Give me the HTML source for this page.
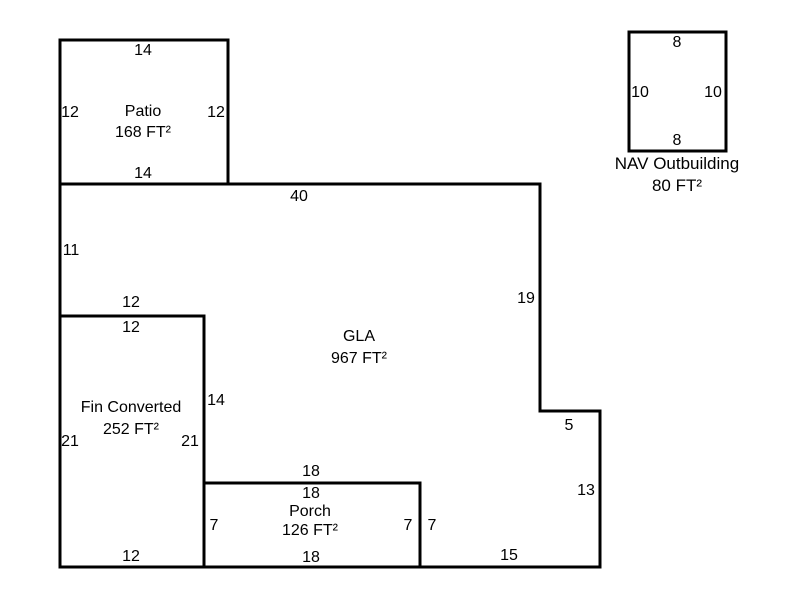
<!DOCTYPE html>
<html><head><style>body{margin:0;background:#fff}svg{display:block}text{font-family:"Liberation Sans",Arial,sans-serif;font-size:16px;fill:#000;text-anchor:middle}</style></head>
<body>
<svg width="800" height="600" viewBox="0 0 800 600">
<g fill="none" stroke="#000" stroke-width="3">
<rect x="60" y="40" width="168" height="144"/>
<path d="M60 184 H540 V411 H600 V567 H60 Z"/>
<rect x="60" y="316" width="144" height="251"/>
<rect x="204" y="483" width="216" height="84"/>
<rect x="629" y="32" width="97" height="119"/>
</g>
<text x="143" y="55">14</text>
<text x="70" y="117">12</text>
<text x="216" y="117">12</text>
<text x="143" y="116">Patio</text>
<text x="143" y="137">168 FT²</text>
<text x="143" y="178">14</text>
<text x="299" y="201">40</text>
<text x="71" y="255">11</text>
<text x="526" y="303">19</text>
<text x="131" y="307">12</text>
<text x="131" y="332">12</text>
<text x="359" y="341">GLA</text>
<text x="359" y="363">967 FT²</text>
<text x="216" y="405">14</text>
<text x="131" y="412">Fin Converted</text>
<text x="131" y="434">252 FT²</text>
<text x="70" y="446">21</text>
<text x="190" y="446">21</text>
<text x="569" y="430">5</text>
<text x="311" y="476">18</text>
<text x="311" y="498">18</text>
<text x="586" y="495">13</text>
<text x="310" y="516">Porch</text>
<text x="310" y="535">126 FT²</text>
<text x="214" y="530">7</text>
<text x="408" y="530">7</text>
<text x="432" y="530">7</text>
<text x="131" y="561">12</text>
<text x="311" y="562">18</text>
<text x="509" y="560">15</text>
<text x="677" y="47">8</text>
<text x="640" y="97">10</text>
<text x="713" y="97">10</text>
<text x="677" y="145">8</text>
<text x="677" y="169" style="font-size:17px">NAV Outbuilding</text>
<text x="677" y="191" style="font-size:17px">80 FT²</text>
</svg>
</body></html>
